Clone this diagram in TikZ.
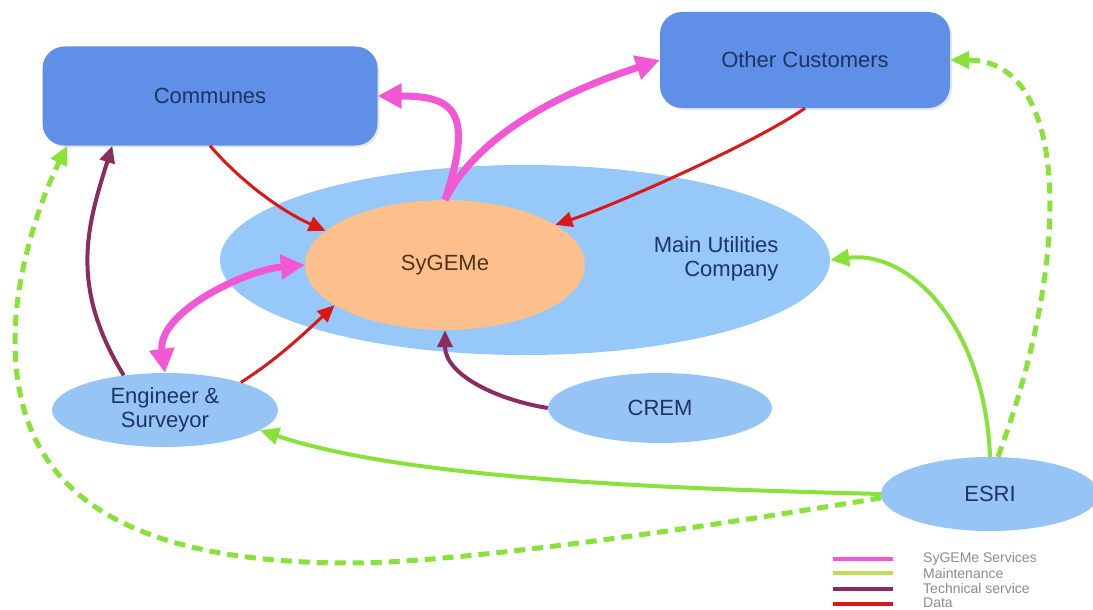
\documentclass[tikz,border=0pt]{standalone}
\usepackage{fontspec}
\setmainfont{Liberation Sans}
\usetikzlibrary{arrows.meta,shapes.geometric,calc,shadows}
\definecolor{boxblue}{RGB}{96,143,232}
\definecolor{mucblue}{RGB}{150,200,250}
\definecolor{ellblue}{RGB}{150,196,245}
\definecolor{peach}{RGB}{253,192,140}
\definecolor{navy}{RGB}{30,52,100}
\definecolor{sybrown}{RGB}{80,50,30}
\definecolor{pinkc}{RGB}{242,88,214}
\definecolor{greenc}{RGB}{136,226,58}
\definecolor{legendgreen}{RGB}{190,224,80}
\definecolor{purplec}{RGB}{138,45,94}
\definecolor{redc}{RGB}{221,22,22}
\definecolor{legendgray}{RGB}{140,140,140}
\begin{document}
\begin{tikzpicture}[x=1pt,y=-1pt,
  lbl/.style={font=\fontsize{22}{24}\selectfont, text=navy},
  box/.style={lbl, fill=boxblue, rounded corners=22pt, inner sep=0pt,
    drop shadow={shadow xshift=2pt,shadow yshift=-2pt,opacity=0.18}},
  ell/.style={lbl, ellipse, fill=ellblue, inner sep=0pt, align=center},
  data/.style={draw=redc, line width=3pt, -{Triangle[length=17pt,width=15pt]}},
  serv/.style={draw=pinkc, line width=7pt, -{Triangle[length=24pt,width=24pt]}},
  tech/.style={draw=purplec, line width=4pt, -{Triangle[length=17pt,width=15pt]}},
  maint/.style={draw=greenc, line width=4pt, -{Triangle[length=19pt,width=17pt]}},
  maintd/.style={maint, line width=5pt, dash pattern=on 11pt off 7pt},
  legtext/.style={anchor=west, font=\fontsize{14}{14}\selectfont, text=legendgray, inner sep=0pt}
]
\useasboundingbox (0,0) rectangle (1093,610);
\fill[white] (0,0) rectangle (1093,610);

% nodes
\node[box, minimum width=335pt, minimum height=99pt] (com) at (210,96) {Communes};
\node[box, minimum width=290pt, minimum height=96pt] (oth) at (805,60) {Other Customers};
\node[ell, fill=mucblue, minimum width=610pt, minimum height=190pt] (muc) at (525,260) {};
\node[lbl, align=right, anchor=east] (muctext) at (782,259) {Main Utilities\\Company};
\node[ell, fill=peach, text=sybrown, minimum width=280pt, minimum height=130pt] (sy) at (445,265) {SyGEMe};
\node[ell, minimum width=226pt, minimum height=74pt] (eng) at (165,410) {Engineer \&\\Surveyor};
\node[ell, minimum width=224pt, minimum height=70pt] (crem) at (660,408) {CREM};
\node[ell, minimum width=218pt, minimum height=74pt] (esri) at (990,494) {ESRI};

% data
\draw[data] (com.south) .. controls +(30,35) and +(-45,-20) .. (sy.164);
\draw[data] (oth.south) .. controls +(-50,35) and +(60,-20) .. (sy.20);
\draw[data] (eng.20) .. controls +(35,-22) and +(-30,28) .. (sy.200);

% services
\draw[serv] (sy.north) .. controls +(30,-90) and +(75,0) .. (com.east);
\draw[serv] (sy.north) .. controls +(40,-80) and +(-60,20) .. (oth.west);
\draw[serv, {Triangle[length=24pt,width=24pt]}-{Triangle[length=24pt,width=24pt]}]
  (eng.north) .. controls +(-8,-60) and +(-60,5) .. (sy.west);

% technical service
\draw[tech] (eng.140) .. controls +(-55,-90) and +(-25,80) .. ($(com.south west)+(70,0)$);
\draw[tech] (crem.west) .. controls +(-50,-8) and +(0,45) .. (sy.south);

% maintenance
\draw[maint] (esri.north) .. controls +(-5,-130) and +(80,-10) .. (muc.east);
\draw[maint] (esri.west) .. controls +(-200,-5) and +(150,50) .. (eng.-12);
\draw[maintd] (esri.78) .. controls +(75,-200) and +(120,0) .. (oth.east);
\draw[maintd] (esri.182) .. controls +(-180,30) and +(110,0) .. (350,563)
  .. controls +(-270,0) and +(0,120) .. (15,340)
  .. controls +(0,-70) and +(-25,50) .. ($(com.south west)+(25,0)$);

% legend
\draw[pinkc, line width=4pt] (833,559) -- (893,559);
\draw[legendgreen, line width=4pt] (833,573) -- (893,573);
\draw[purplec, line width=4pt] (833,589) -- (893,589);
\draw[redc, line width=4pt] (833,604) -- (893,604);
\node[legtext] (l1) at (923,559) {SyGEMe Services};
\node[legtext] (l2) at (923,573) {Maintenance};
\node[legtext] (l3) at (923,588) {Technical service};
\node[legtext] (l4) at (923,603) {Data};
\end{tikzpicture}
\end{document}
